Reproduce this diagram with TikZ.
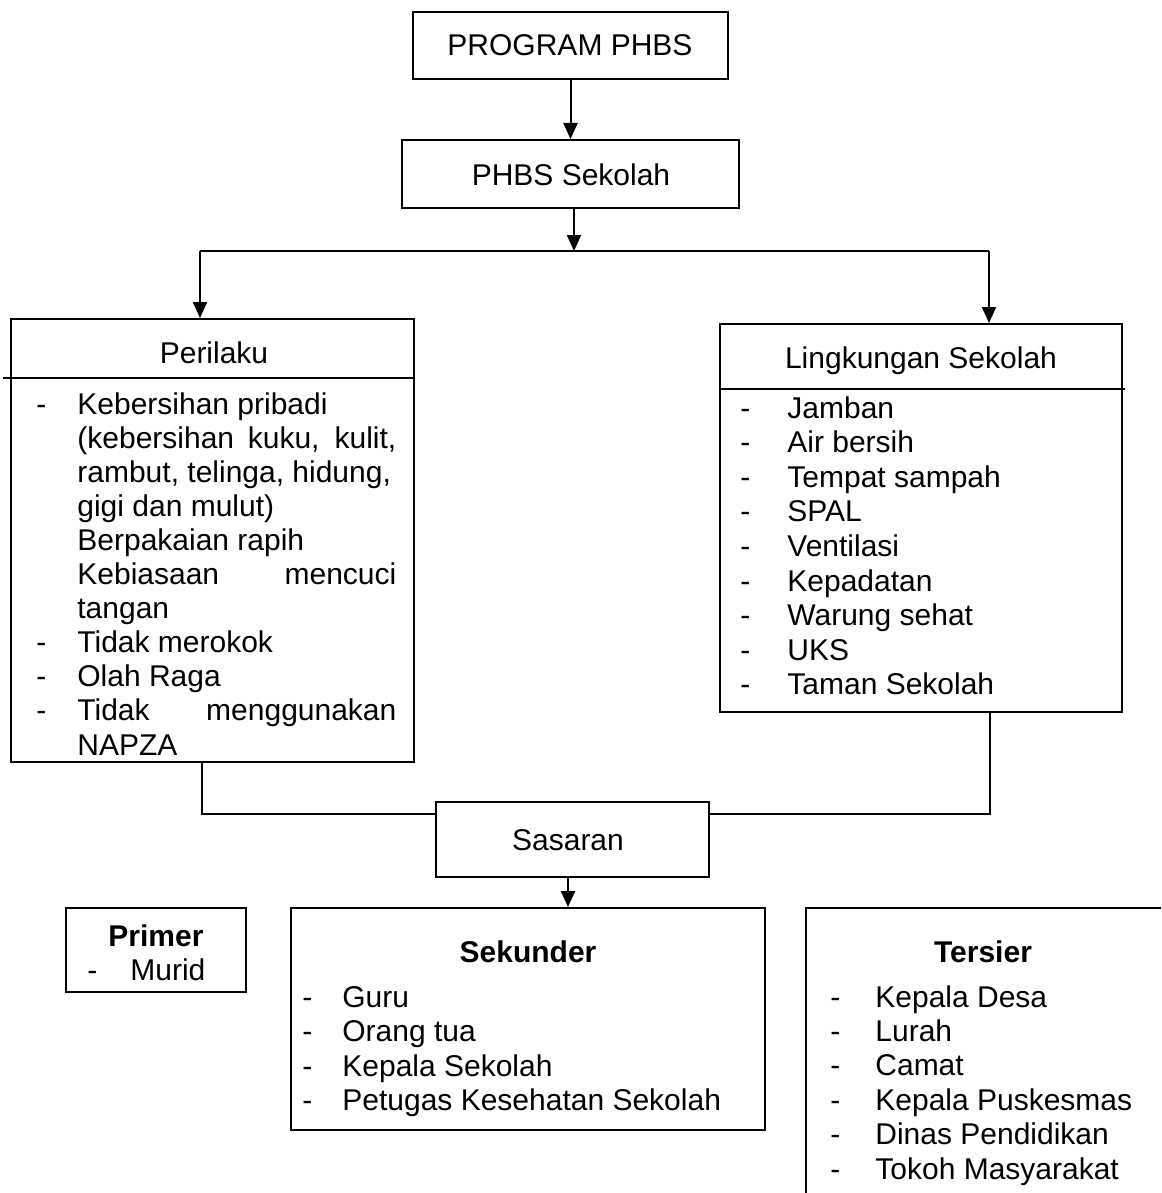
\documentclass[tikz,border=0pt]{standalone}
\usepackage{fontspec}
\setmainfont{Liberation Sans}
\usetikzlibrary{arrows.meta}
\newcommand{\fs}{\fontsize{15pt}{17pt}\selectfont}
\begin{document}
\begin{tikzpicture}[x=0.5pt,y=-0.5pt,
  box/.style={draw,line width=1pt,inner sep=0pt,fill=none},
  txt/.style={inner sep=0pt,font=\fs},
  lt/.style={txt,anchor=base west},
  ct/.style={txt,anchor=base},
  ln/.style={line width=1pt},
  arr/.style={line width=1pt,-{Triangle[width=7pt,length=8pt]}}]
\useasboundingbox (0,0) rectangle (1161,1193);
% boxes
\node[box,minimum width=157.5pt,minimum height=33.5pt] (prog) at (570.5,45.5) {};
\node[box,minimum width=168.5pt,minimum height=34pt] (sek) at (570.5,174) {};
\node[box,minimum width=201.5pt,minimum height=221.5pt] (peri) at (212.5,540.5) {};
\node[box,minimum width=201pt,minimum height=194pt] (ling) at (921,518) {};
\node[box,minimum width=136.5pt,minimum height=37.5pt] (sas) at (572.5,839.5) {};
\node[box,minimum width=90pt,minimum height=42pt] (prim) at (156,950) {};
\node[box,minimum width=237pt,minimum height=111pt] (seku) at (528,1019) {};
\coordinate (tl) at (806,908);
\coordinate (tr) at (1161,908);
\coordinate (tb) at (806,1193);
\draw[ln] (tr) -- (tl) -- (tb);
% titles
\node[ct] (tprog) at (570,56) {PROGRAM PHBS};
\node[ct] (tsek) at (571,185) {PHBS Sekolah};
\node[ct] (tperi) at (214,363) {Perilaku};
\node[ct] (tling) at (921,368) {Lingkungan Sekolah};
\node[ct] (tsas) at (568,850) {Sasaran};
\node[ct] (tprim) at (156,946) {\bfseries Primer};
\node[ct] (tseku) at (528,962) {\bfseries Sekunder};
\node[ct] (tters) at (983,962) {\bfseries Tersier};
% separators
\coordinate (ps) at (3,378);
\draw[ln] (ps) -- (ps -| peri.east);
\coordinate (ls) at (ling.west |- 0,389);
\coordinate (le) at (1125,389);
\draw[ln] (ls) -- (le);
% Perilaku items
\foreach \t [count=\i from 0] in {Kebersihan pribadi,
  {\makebox[159.5pt][s]{(kebersihan kuku, kulit,}},
  {rambut, telinga, hidung,},
  {gigi dan mulut)},
  Berpakaian rapih,
  {\makebox[159.5pt][s]{Kebiasaan mencuci}},
  tangan,
  Tidak merokok,
  Olah Raga,
  {\makebox[159.5pt][s]{Tidak menggunakan}},
  NAPZA}
  \node[lt] (pi\i) at (77,414+34.1*\i) {\t};
\foreach \i in {0,7,8,9}
  \node[lt] (pd\i) at (36,414+34.1*\i) {-};
% Lingkungan items
\foreach \t [count=\i from 0] in {Jamban,Air bersih,Tempat sampah,SPAL,Ventilasi,Kepadatan,Warung sehat,UKS,Taman Sekolah}{
  \node[lt] (li\i) at (787,418+34.6*\i) {\t};
  \node[lt] (ld\i) at (740,418+34.6*\i) {-};
}
% Primer
\node[lt] (pm0) at (130,980) {Murid};
\node[lt] (pmd0) at (87,980) {-};
% Sekunder
\foreach \t [count=\i from 0] in {Guru,Orang tua,Kepala Sekolah,Petugas Kesehatan Sekolah}{
  \node[lt] (sk\i) at (342,1007+34.6*\i) {\t};
  \node[lt] (skd\i) at (302,1007+34.6*\i) {-};
}
% Tersier
\foreach \t [count=\i from 0] in {Kepala Desa,Lurah,Camat,Kepala Puskesmas,Dinas Pendidikan,Tokoh Masyarakat}{
  \node[lt] (te\i) at (875,1007+34.4*\i) {\t};
  \node[lt] (ted\i) at (830,1007+34.4*\i) {-};
}
% connectors
\draw[arr] (prog.south) -- (sek.north);
\coordinate (j1) at (574,251);
\draw[arr] (sek.south -| j1) -- (j1);
\coordinate (hl) at (200,251);
\coordinate (hr) at (989,251);
\draw[ln] (hl) -- (hr);
\draw[arr] (hl) -- (hl |- peri.north);
\draw[arr] (hr) -- (hr |- ling.north);
\coordinate (bl) at (202,814);
\coordinate (br) at (990,814);
\draw[ln] (peri.south -| bl) -- (bl) -- (bl -| sas.west);
\draw[ln] (ling.south -| br) -- (br) -- (br -| sas.east);
\coordinate (sa) at (568,877);
\draw[arr] (sa) -- (sa |- seku.north);
\end{tikzpicture}
\end{document}
